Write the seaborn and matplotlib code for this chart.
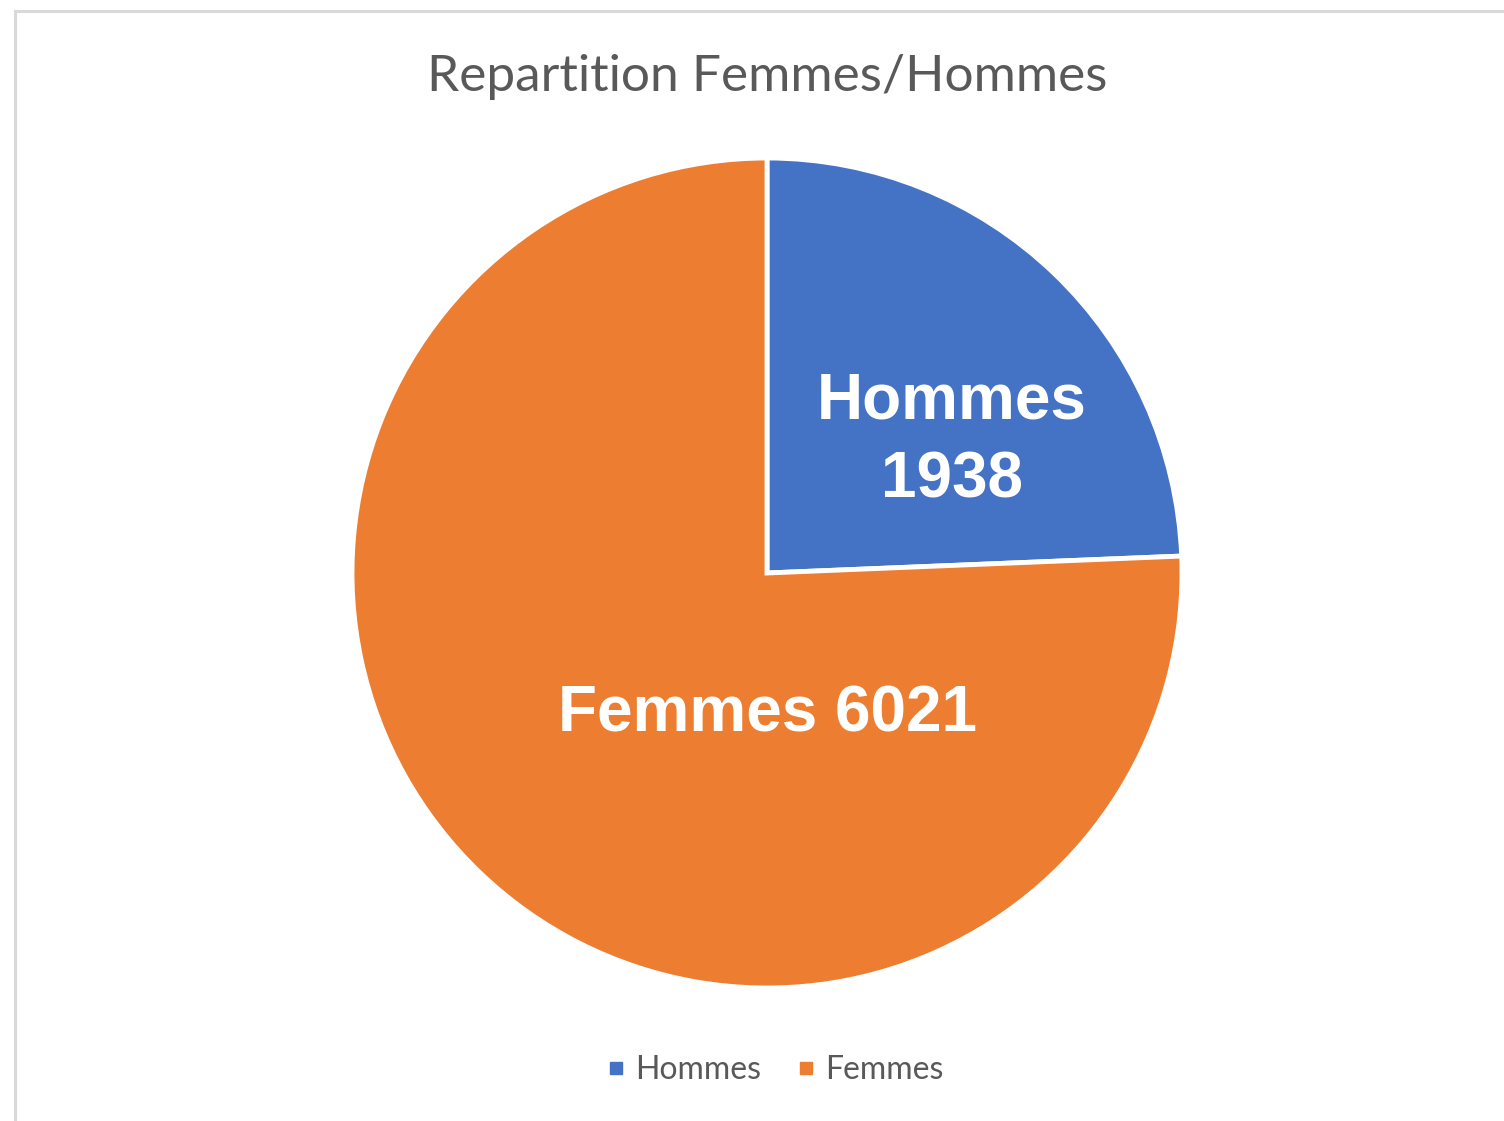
import matplotlib
matplotlib.use("Agg")
import matplotlib.pyplot as plt
from matplotlib.patches import Rectangle
from matplotlib.lines import Line2D
import seaborn as sns

# ---- data ----
categories = ["Hommes", "Femmes"]
values = [1938, 6021]
colors = ["#4472C4", "#ED7D31"]
title = "Repartition Femmes/Hommes"

sns.set_theme(style="white")
plt.rcParams["font.family"] = ["Lato", "DejaVu Sans"]

W, H = 1504, 1121
fig = plt.figure(figsize=(W / 100, H / 100), dpi=100)
fig.patch.set_facecolor("white")

# pie axes: centre (767,573) px, radius ~415 px
cx, cy, r = 767, 573, 415
ax = fig.add_axes([(cx - r) / W, 1 - (cy + r) / H, 2 * r / W, 2 * r / H])
wedges, _ = ax.pie(values, colors=colors, startangle=90, counterclock=False,
                   wedgeprops=dict(edgecolor="white", linewidth=3.5),
                   radius=1)
ax.set_xlim(-1, 1)
ax.set_ylim(-1, 1)
ax.set_aspect("equal")
ax.axis("off")

# data labels
lab_font = dict(family=["Liberation Sans", "DejaVu Sans"], fontweight="bold",
                color="white", fontsize=46, ha="center", va="center")
ax.text(0.446, 0.318, f"{categories[0]}\n{values[0]}", linespacing=1.4, **lab_font)
ax.text(0.0, -0.34, f"{categories[1]} {values[1]}", **lab_font)

# title
fig.text(767 / W, 1 - 77 / H, title, ha="center", va="center",
         fontsize=37, color="#595959")

# legend
handles = [Line2D([0], [0], marker="s", linestyle="none", markersize=9,
                  markerfacecolor=c, markeredgecolor=c) for c in colors]
leg = fig.legend(handles, categories, loc="center", bbox_to_anchor=(775 / W, 1 - 1070 / H),
                 ncol=2, frameon=False, fontsize=23, handlelength=0.6,
                 handletextpad=0.3, columnspacing=1.1, labelcolor="#595959")

# chart border (left and top visible)
fig.add_artist(Rectangle((15 / W, -0.2), 1.5, 1.2 - 11 / H, transform=fig.transFigure,
                         fill=False, edgecolor="#d9d9d9", linewidth=2.2))

fig.savefig("out.png", dpi=100, facecolor="white")
